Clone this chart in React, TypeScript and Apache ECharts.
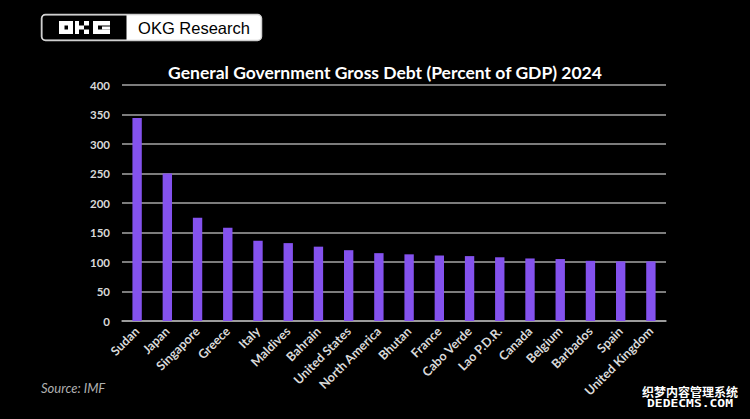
import React, { useEffect, useRef } from "react";
import * as echarts from "echarts";

const categories = [
  "Sudan", "Japan", "Singapore", "Greece", "Italy", "Maldives", "Bahrain",
  "United States", "North America", "Bhutan", "France", "Cabo Verde",
  "Lao P.D.R.", "Canada", "Belgium", "Barbados", "Spain", "United Kingdom",
];
const debtValues = [344, 250, 175, 158, 136, 132, 126, 120, 115, 113, 111, 110, 108, 106, 105, 102, 101, 101];
const yTicks = { min: 0, max: 400, interval: 50 };
const titleText = "General Government Gross Debt (Percent of GDP) 2024";
const sourceText = "Source: IMF";
const brandText = "OKG Research";

export default function App() {
  const ref = useRef<HTMLDivElement>(null);
  useEffect(() => {
    if (!ref.current) return;
    const chart = echarts.init(ref.current, null, { renderer: "svg" });
    const white = "#ffffff";
    const logoRects = [
      // O
      [59, 21, 14, 13],
      // K
      [75, 21, 4, 13], [79, 25.5, 5, 4], [84, 21, 5, 4.5], [84, 29.5, 5, 4.5],
      // G
      [93, 21, 17, 4.5], [93, 21, 5, 13], [93, 29.5, 17, 4.5], [102, 26.5, 8, 3],
    ];
    chart.setOption({
      animation: false,
      backgroundColor: "#000000",
      grid: { left: 122, right: 84, top: 85, bottom: 98 },
      title: {
        text: titleText,
        left: 380,
        textAlign: "center",
        top: 58,
        textStyle: { color: white, fontFamily: "Lato", fontWeight: "bold", fontSize: 17.5 },
      },
      xAxis: {
        type: "category",
        data: categories,
        axisLine: { lineStyle: { color: "#a6a6a6", width: 1.5 } },
        axisTick: { show: false },
        axisLabel: {
          rotate: 45,
          interval: 0,
          margin: 8,
          color: "#d9d9d9",
          fontFamily: "Lato",
          fontWeight: "bold",
          fontSize: 12.5,
        },
      },
      yAxis: {
        type: "value",
        min: yTicks.min,
        max: yTicks.max,
        interval: yTicks.interval,
        axisLine: { show: false },
        axisTick: { show: false },
        splitLine: { lineStyle: { color: "#a6a6a6", width: 1.5 } },
        axisLabel: {
          margin: 12,
          color: "#d9d9d9",
          fontFamily: "Lato",
          fontWeight: "bold",
          fontSize: 11.5,
        },
      },
      series: [
        {
          type: "bar",
          data: debtValues,
          barWidth: "31%",
          itemStyle: { color: "#8452EE" },
        },
      ],
      graphic: [
        {
          type: "rect",
          shape: { x: 41.5, y: 14.5, width: 220, height: 26, r: 4 },
          style: { fill: white, stroke: "#cfcfcf", lineWidth: 1.5 },
        },
        {
          type: "rect",
          shape: { x: 42.5, y: 15.5, width: 84, height: 24, r: [3, 0, 0, 3] },
          style: { fill: "#000000" },
        },
        ...logoRects.map((r) => ({
          type: "rect",
          shape: { x: r[0], y: r[1], width: r[2], height: r[3] },
          style: { fill: white },
        })),
        {
          type: "rect",
          shape: { x: 64.5, y: 25.5, width: 3.5, height: 4 },
          style: { fill: "#000000" },
        },
        {
          type: "text",
          x: 194,
          y: 28,
          style: {
            text: brandText,
            fill: "#000000",
            fontFamily: "Liberation Sans",
            fontSize: 16.5,
            align: "center",
            verticalAlign: "middle",
          },
        },
        {
          type: "text",
          x: 41,
          y: 388,
          style: {
            text: sourceText,
            fill: "#b0b0b0",
            fontFamily: "Lato",
            fontStyle: "italic",
            fontSize: 13,
            verticalAlign: "middle",
          },
        },
        {
          type: "text",
          x: 690,
          y: 391,
          style: {
            text: "织梦内容管理系统",
            fill: white,
            stroke: "#000000",
            lineWidth: 2,
            fontFamily: "Noto Sans CJK SC",
            fontWeight: "bold",
            fontSize: 12,
            align: "center",
            verticalAlign: "middle",
          },
        },
        {
          type: "text",
          x: 690,
          y: 404,
          scaleX: 1.3,
          style: {
            text: "DEDECMS.COM",
            fill: white,
            stroke: "#000000",
            lineWidth: 1.5,
            fontFamily: "DejaVu Sans Mono",
            fontWeight: "bold",
            fontSize: 10,
            align: "center",
            verticalAlign: "middle",
          },
        },
      ],
    });
    return () => chart.dispose();
  }, []);
  return (
    <div
      ref={ref}
      style={{ position: "fixed", left: 0, top: 0, width: 750, height: 419, background: "#000" }}
    />
  );
}
